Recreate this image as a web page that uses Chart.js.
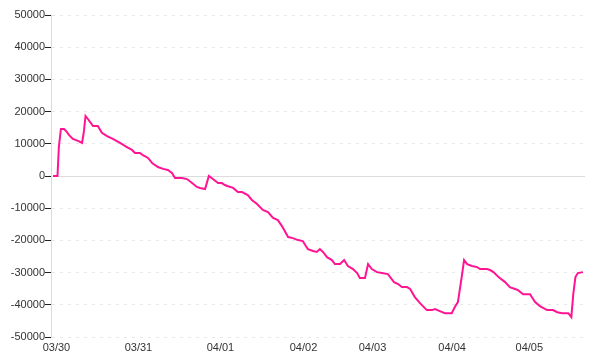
<!DOCTYPE html>
<html>
<head>
<meta charset="utf-8">
<script src="https://cdn.jsdelivr.net/npm/chart.js@4"></script>
<style>
    html, body { margin: 0; padding: 0; background: #fff; }
    #wrap { width: 600px; height: 360px; }
</style>
</head>
<body>
<div id="wrap"><canvas id="pnl"></canvas></div>
<script>
const line_color = "rgb(255, 20, 147)"  //deep pink
const grid_color = "#e8e8e8"
const text_color = "#333"

// x is hours-ish position along the axis, y is the running balance
const hours = [-1.0, 0.3, 0.7, 1.3, 2.2, 2.8, 3.7, 4.8, 6.3, 7.5, 8.05, 8.5, 9.2, 9.8, 10.7, 12.1, 13.3, 14.8, 16.5, 18.6,
    20.6, 22.1, 23.0, 24.4, 25.3, 26.8, 28.0, 29.7, 31.2, 32.6, 33.8, 34.7, 36.7, 38.2, 39.7, 41.1, 42.0, 43.5, 44.6, 45.8,
    47.3, 48.4, 49.3, 50.0, 51.7, 53.1, 54.3, 56.0, 57.2, 58.7, 60.4, 61.9, 63.4, 64.8, 66.0, 67.8, 69.2, 70.7, 72.1, 73.0,
    73.6, 75.1, 76.2, 77.1, 78.0, 79.2, 80.6, 81.5, 83.0, 84.2, 85.3, 86.8, 88.0, 88.8, 90.3, 91.2, 92.3, 93.8, 95.3, 97.0,
    97.9, 98.8, 100.0, 101.1, 102.6, 103.5, 104.9, 106.4, 108.4, 109.9, 110.8, 112.2, 113.7, 115.7, 116.6, 117.5, 118.7, 119.3, 120.2, 121.6,
    123.1, 124.0, 126.0, 126.9, 127.9, 129.4, 131.3, 132.7, 134.2, 135.1, 136.6, 138.6, 140.1, 141.5, 143.6, 145.3, 146.6, 148.0, 149.8, 150.7,
    151.3, 151.9, 152.6, 154.1]
const balance = [0, 0, 9000, 14600, 14600, 14000, 12700, 11500, 10900, 10250, 14000, 18650, 17700, 16800, 15500, 15500, 13400, 12400, 11500, 10250,
    9000, 8100, 7150, 7150, 6500, 5600, 4050, 2800, 2200, 1850, 950, -600, -600, -950, -2200, -3400, -3700, -4050, 0, -950,
    -2200, -2200, -2800, -3100, -3700, -5000, -5000, -5900, -7450, -8700, -10550, -11200, -13050, -13700, -15550, -18950, -19300, -19900, -20200, -21750,
    -22700, -23300, -23600, -22700, -23600, -25200, -26100, -27350, -27350, -26100, -27950, -28900, -30150, -31700, -31700, -27350, -28900, -29850, -30150, -30450,
    -31700, -32950, -33550, -34500, -34500, -35100, -37600, -39500, -41650, -41650, -41350, -41950, -42600, -42600, -40700, -39150, -30750, -26100, -27350, -27950,
    -28300, -28900, -28900, -29200, -29850, -31400, -32950, -34500, -35100, -35450, -36700, -36700, -39150, -40400, -41650, -41650, -42300, -42600, -42600, -43850,
    -36350, -31400, -30150, -29850]

// day labels sit at the first point of each day, so they are not evenly spaced
const day_ticks = [0, 24, 48, 72.3, 92.5, 115.8, 138.4]
const day_labels = ["03/30", "03/31", "04/01", "04/02", "04/03", "04/04", "04/05"]

const points = hours.map((h, i) => ({x: h, y: balance[i]}))

// solid line at zero, over the dashed grid
const zero_line = {
    id: 'zeroLine',
    beforeDatasetsDraw(chart) {
        const y = Math.round(chart.scales.y.getPixelForValue(0)) + 0.5
        const area = chart.chartArea
        const ctx = chart.ctx
        ctx.save()
        ctx.strokeStyle = "#dcdcdc"
        ctx.lineWidth = 1
        ctx.beginPath()
        ctx.moveTo(area.left, y)
        ctx.lineTo(area.right, y)
        ctx.stroke()
        ctx.restore()
    }
}

new Chart(document.getElementById('pnl'), {
    type: "line",
    data: {
        datasets: [{
            data: points,
            borderColor: line_color,
            borderWidth: 2,
            pointRadius: 0,
            tension: 0,
            fill: false,
        }]
    },
    options: {
        responsive: true,
        maintainAspectRatio: false,
        animation: false,
        layout: {
            padding: {top: 15, right: 15, bottom: 0, left: 0}
        },
        plugins: {
            legend: {display: false},
            tooltip: {enabled: false}
        },
        scales: {
            x: {
                type: "linear",
                min: -1.6,
                max: 154.7,
                afterBuildTicks(scale) {
                    scale.ticks = day_ticks.map((v) => ({value: v}))
                },
                afterFit(scale) {
                    scale.height = 23
                },
                ticks: {
                    color: text_color,
                    padding: 4,
                    maxRotation: 0,
                    autoSkip: false,
                    font: {family: "Liberation Sans", size: 11},
                    callback: (value, index) => day_labels[index]
                },
                grid: {display: false, drawTicks: false},
                border: {display: false}
            },
            y: {
                min: -50000,
                max: 50000,
                ticks: {
                    stepSize: 10000,
                    color: text_color,
                    padding: 0,
                    font: {family: "Liberation Sans", size: 11},
                    callback: (value) => value.toString()
                },
                afterFit(scale) {
                    scale.width = 51
                },
                grid: {
                    color: grid_color,
                    tickColor: "#222",
                    tickLength: 6,
                },
                border: {
                    color: "#dcdcdc",
                    dash: [3, 5],
                }
            }
        }
    },
    plugins: [zero_line]
});
</script>
</body>
</html>
